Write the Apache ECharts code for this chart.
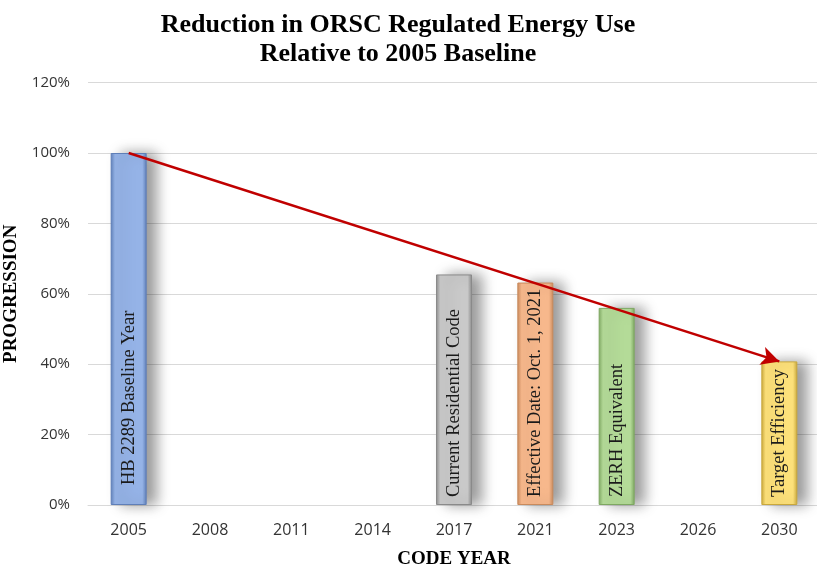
<!DOCTYPE html>
<html>
<head>
<meta charset="utf-8">
<script src="https://cdn.jsdelivr.net/npm/echarts@6/dist/echarts.min.js"></script>
<style>html,body{margin:0;padding:0;background:#fff}#c{width:817px;height:571px}</style>
</head>
<body>
<div id="c"></div>
<script>
const categories = ['2005','2008','2011','2014','2017','2021','2023','2026','2030'];
const barValues = [100, null, null, null, 65.5, 63.2, 56, null, 40.8];
const barLabels = ['HB 2289 Baseline Year', '', '', '', 'Current Residential Code', 'Effective Date: Oct. 1, 2021', 'ZERH Equivalent', '', 'Target Efficiency'];
const barColors = ['#95b3e7', null, null, null, '#c9c9c9', '#f7b88c', '#b4db98', null, '#fde17a'];
const barEdges  = ['#5f7fb8', null, null, null, '#8a8a8a', '#c98a5c', '#7ea862', null, '#c9a83c'];
const arrowStart = ['2005', 100];
const arrowEnd = ['2030', 40.8];

function shade(c, edge){
  return {type:'linear', x:0, y:0, x2:1, y2:0, colorStops:[
    {offset:0, color:edge},{offset:0.12, color:c},{offset:0.88, color:c},{offset:1, color:edge}]};
}

const data = barValues.map((v,i)=> v==null ? null : ({
  value: v,
  itemStyle: {color: shade(barColors[i], barEdges[i]), borderColor: barEdges[i], borderWidth: 1},
  label: {show: true, formatter: barLabels[i], distance: i===0 ? 20 : 8}
}));

const chart = echarts.init(document.getElementById('c'), null, {renderer:'canvas'});
chart.setOption({
  animation: false,
  title: {
    text: 'Reduction in ORSC Regulated Energy Use\nRelative to 2005 Baseline',
    left: 393, top: 6, textAlign: 'center',
    textStyle: {fontFamily: 'Liberation Serif', fontWeight: 'bold', fontSize: 26, lineHeight: 29, color: '#000'}
  },
  grid: {left: 88, right: -3, top: 82.6, bottom: 66, outerBoundsMode: 'none', containLabel: false},
  xAxis: {
    type: 'category', data: categories,
    name: 'CODE YEAR', nameLocation: 'middle', nameGap: 45,
    nameTextStyle: {fontFamily: 'Liberation Serif', fontWeight: 'bold', fontSize: 19, color: '#000'},
    axisLine: {lineStyle: {color: '#d9d9d9'}}, axisTick: {show: false},
    axisLabel: {margin: 17, fontFamily: 'Open Sans', fontSize: 16, color: '#333'}
  },
  yAxis: {
    type: 'value', min: 0, max: 120, interval: 20,
    name: 'PROGRESSION', nameLocation: 'middle', nameGap: 64, nameRotate: 90,
    nameTextStyle: {fontFamily: 'Liberation Serif', fontWeight: 'bold', fontSize: 19, color: '#000'},
    axisLine: {show: false}, axisTick: {show: false},
    splitLine: {lineStyle: {color: '#d9d9d9'}},
    axisLabel: {margin: 18, fontFamily: 'Open Sans', fontSize: 15, color: '#333', formatter: v => v + '%'}
  },
  series: [{
    type: 'bar', data: data, barWidth: 36,
    itemStyle: {shadowColor: 'rgba(0,0,0,0.4)', shadowBlur: 14, shadowOffsetX: 10, shadowOffsetY: 0},
    label: {show: true, position: 'insideBottom', rotate: 90, align: 'left', verticalAlign: 'middle',
      fontFamily: 'Liberation Serif', fontSize: 18.5, color: '#1a1a1a'},
    markLine: {
      silent: true, symbol: ['none', 'arrow'], symbolSize: [14, 18],
      lineStyle: {color: '#c00000', width: 2.5, type: 'solid'},
      label: {show: false},
      data: [[{coord: arrowStart}, {coord: arrowEnd}]]
    }
  }]
});
</script>
</body>
</html>
